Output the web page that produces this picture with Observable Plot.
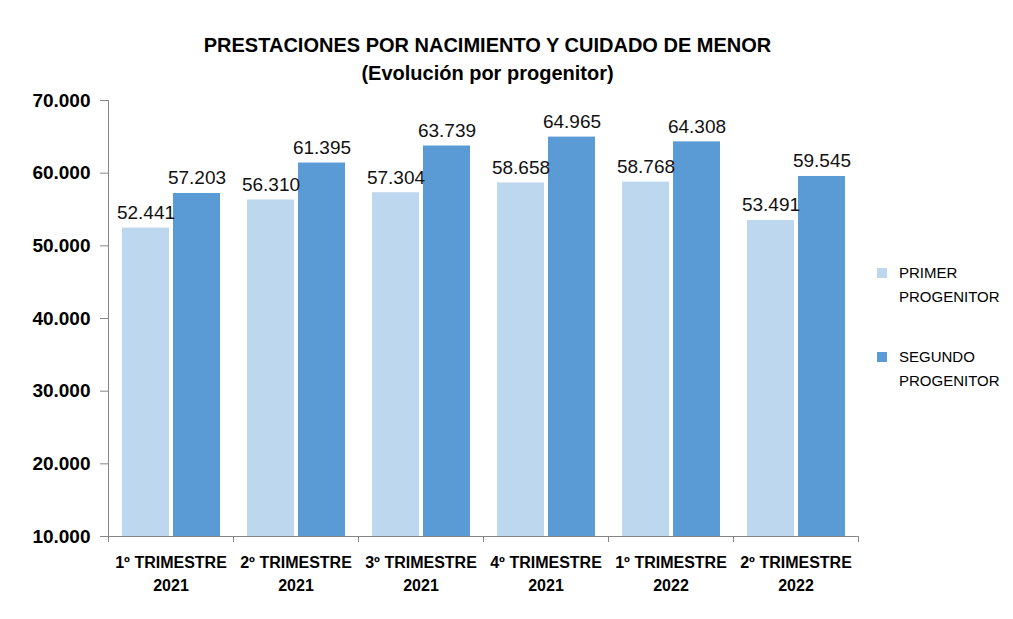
<!DOCTYPE html>
<html><head><meta charset="utf-8">
<script src="https://cdn.jsdelivr.net/npm/d3@7"></script>
<script src="https://cdn.jsdelivr.net/npm/@observablehq/plot@0.6"></script>
<style>
body{margin:0;background:#fff;font-family:"Liberation Sans",Arial,sans-serif}
#wrap{position:relative;width:1013px;height:619px;overflow:hidden}
#title{position:absolute;left:0;top:31px;width:975px;text-align:center;font-weight:bold;font-size:20px;line-height:28px;color:#000}
.leg{position:absolute;left:877px;font-size:15px;line-height:24px;color:#000}
.sw{position:absolute;left:0;top:7px;width:10px;height:10px}
.lt{position:absolute;left:22px;top:0;white-space:nowrap}
#chart{position:absolute;left:0;top:0}
</style>
</head><body>
<div id="wrap">
<div id="chart"></div>
<div id="title">PRESTACIONES POR NACIMIENTO Y CUIDADO DE MENOR<br>(Evolución por progenitor)</div>
<div id="legend"></div>
</div>
<script>
const categories = ["1º TRIMESTRE 2021","2º TRIMESTRE 2021","3º TRIMESTRE 2021","4º TRIMESTRE 2021","1º TRIMESTRE 2022","2º TRIMESTRE 2022"];
const categoryLabels = ["1º TRIMESTRE\n2021","2º TRIMESTRE\n2021","3º TRIMESTRE\n2021","4º TRIMESTRE\n2021","1º TRIMESTRE\n2022","2º TRIMESTRE\n2022"];
const seriesNames = ["PRIMER PROGENITOR","SEGUNDO PROGENITOR"];
const seriesLabels = ["PRIMER<br>PROGENITOR","SEGUNDO<br>PROGENITOR"];
const primer = [52441, 56310, 57304, 58658, 58768, 53491];
const segundo = [57203, 61395, 63739, 64965, 64308, 59545];
const yTicks = [10000, 20000, 30000, 40000, 50000, 60000, 70000];
const colors = ["#BDD7EE", "#5B9BD5"];

const fmt = d => d3.format(",")(d).replace(/,/g, ".");
const rowsP = categories.map((c, i) => ({cat: c, value: primer[i]}));
const rowsS = categories.map((c, i) => ({cat: c, value: segundo[i]}));
const grey = "#868686";
const half = 62.5;

const chart = Plot.plot({
  width: 1013, height: 619,
  marginLeft: 108, marginRight: 155, marginTop: 100, marginBottom: 83,
  style: {fontFamily: "'Liberation Sans', Arial, sans-serif", background: "transparent", color: "#000"},
  x: {domain: categories, padding: 0, label: null},
  y: {domain: [10000, 70000], label: null},
  marks: [
    Plot.barY(rowsP, {x: "cat", y1: 10000, y2: "value", fill: colors[0], insetLeft: 14, insetRight: 64}),
    Plot.barY(rowsS, {x: "cat", y1: 10000, y2: "value", fill: colors[1], insetLeft: 65, insetRight: 13}),
    Plot.text(rowsP, {x: "cat", y: "value", text: d => fmt(d.value), dx: -25, dy: -9, lineAnchor: "bottom", fontSize: 19, fill: "#111"}),
    Plot.text(rowsS, {x: "cat", y: "value", text: d => fmt(d.value), dx: 26, dy: -9, lineAnchor: "bottom", fontSize: 19, fill: "#111"}),
    Plot.ruleY([10000], {stroke: grey}),
    Plot.ruleX([categories[0]], {x: d => d, dx: -half, y1: 10000, y2: 70000, stroke: grey}),
    Plot.axisY(yTicks, {tickSize: 8, tickPadding: 10, tickFormat: fmt, fontSize: 19, fontWeight: "bold", stroke: grey, fill: "#000", label: null}),
    Plot.axisX(categories, {tickSize: 6, tickFormat: () => "", dx: -half, stroke: grey, label: null}),
    Plot.axisX([categories[categories.length - 1]], {tickSize: 6, tickFormat: () => "", dx: half, stroke: grey, label: null}),
    Plot.text(categories, {x: d => d, text: (d, i) => categoryLabels[i], frameAnchor: "bottom", lineAnchor: "top", dy: 15, fontSize: 16, fontWeight: "bold", lineHeight: 1.45, fill: "#000"})
  ]
});
document.getElementById("chart").append(chart);

const leg = document.getElementById("legend");
const legTops = [261, 345];
seriesNames.forEach((s, i) => {
  const d = document.createElement("div");
  d.className = "leg";
  d.style.top = legTops[i] + "px";
  d.innerHTML = `<div class="sw" style="background:${colors[i]}"></div><div class="lt">${seriesLabels[i]}</div>`;
  leg.append(d);
});
</script>
</body></html>
